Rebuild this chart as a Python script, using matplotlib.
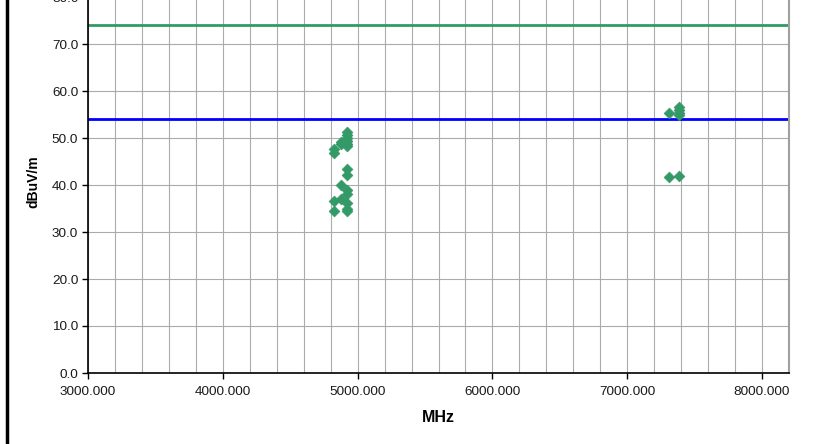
import matplotlib
matplotlib.use("Agg")
import matplotlib.pyplot as plt
from matplotlib.lines import Line2D
import numpy as np

plt.rcParams['font.family'] = ['Liberation Sans', 'DejaVu Sans']

# Data (frequency MHz, level dBuV/m)
freq = [4824, 4824, 4824, 4824,
        4874, 4874, 4874, 4874,
        4924, 4924, 4924, 4924, 4924, 4924, 4924, 4924, 4924, 4924, 4924, 4924, 4924,
        7311, 7311,
        7386, 7386, 7386, 7386, 7386]
level = [47.6, 46.9, 36.6, 34.4,
         49.1, 48.7, 39.9, 37.1,
         51.3, 50.7, 50.1, 49.4, 48.8, 48.2, 43.4, 42.1, 39.0, 38.1, 36.1, 35.0, 34.4,
         55.3, 41.7,
         56.7, 56.0, 55.4, 55.0, 41.9]
limit_peak = 74.0
limit_avg = 54.0

xticks = [3000, 4000, 5000, 6000, 7000, 8000]
yticks = [0, 10, 20, 30, 40, 50, 60, 70, 80]

fig = plt.figure(figsize=(8.33, 4.44), dpi=100)
ax = fig.add_axes([88/833, 1 - 373/444, (789 - 88)/833, (373 + 3)/444])

ax.set_xlim(3000, 8200)
ax.set_ylim(0, 80)

# grid
ax.set_xticks(xticks)
ax.set_xticks(np.arange(3200, 8201, 200), minor=True)
ax.set_yticks(yticks)
ax.grid(True, which='both', axis='x', color='#ababab', linewidth=0.8)
ax.grid(True, which='major', axis='y', color='#ababab', linewidth=0.8)
ax.set_axisbelow(True)
ax.tick_params(axis='x', which='minor', length=0)
ax.tick_params(axis='both', which='major', direction='out', length=4, width=1,
               labelsize=9.7, colors='black', labelcolor='#1a1a1a')
ax.tick_params(axis='x', pad=5.5)
ax.tick_params(axis='y', pad=3)

ax.set_xticklabels([f"{v:.3f}" for v in xticks])
ax.set_yticklabels([f"{v:.1f}" for v in yticks])

ax.axhline(limit_peak, color='#339966', linewidth=2)
ax.axhline(limit_avg, color='#0000ff', linewidth=2)

ax.scatter(freq, level, marker='D', s=30, color='#339966', edgecolors='#339966',
           linewidths=0.5, zorder=5)

ax.spines['top'].set_visible(False)
ax.spines['right'].set_color('#a0a0a0')
ax.spines['right'].set_linewidth(1.5)
ax.spines['left'].set_color('black')
ax.spines['bottom'].set_color('black')
ax.spines['left'].set_linewidth(1.2)
ax.spines['bottom'].set_linewidth(1.2)

ax.set_xlabel('MHz', fontsize=11.5, fontweight='bold')
ax.xaxis.set_label_coords(0.5, -(417 - 373) / 376)
ax.xaxis.label.set_va('center')
ax.set_ylabel('dBuV/m', fontsize=10, fontweight='bold')
ax.yaxis.set_label_coords(-(88 - 33) / 701, 1 - (182 + 3) / 376)
ax.yaxis.label.set_va('center')

# outer chart border (left edge visible)
fig.add_artist(Line2D([6.5/833, 6.5/833], [0, 1], transform=fig.transFigure,
                      color='black', linewidth=2.5))

fig.savefig('out.png', dpi=100)
